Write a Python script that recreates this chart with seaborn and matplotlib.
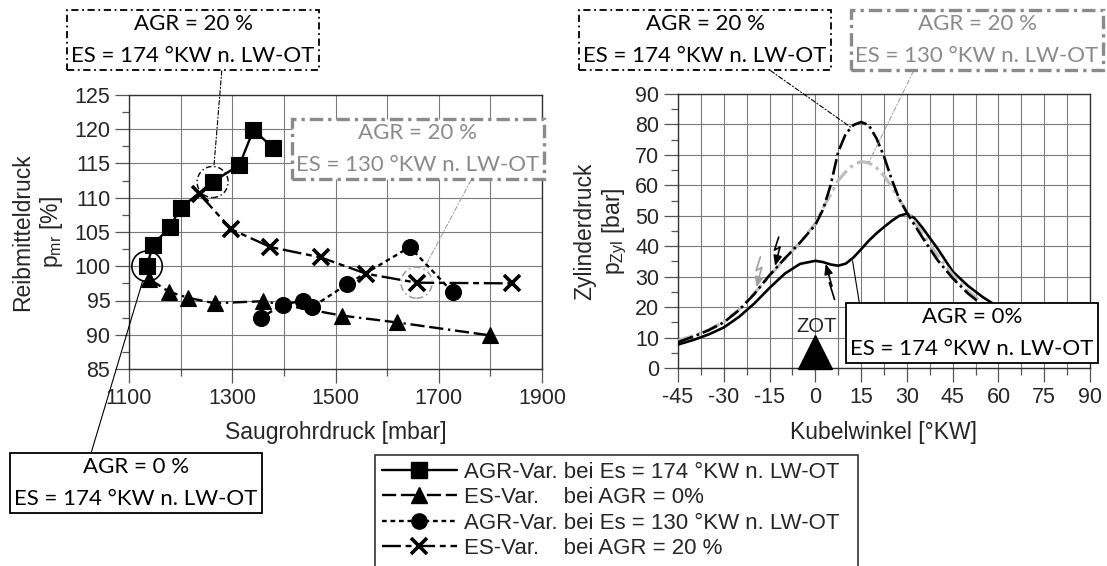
import matplotlib
matplotlib.use("Agg")
import matplotlib.pyplot as plt
from matplotlib.lines import Line2D
from matplotlib.patches import Rectangle
from matplotlib.ticker import MultipleLocator
import seaborn as sns

# ---------------- left panel: friction MEP vs. intake manifold pressure
agr_es174_p = [1135, 1146, 1179, 1200, 1262, 1314, 1341, 1379]
agr_es174_pmr = [100.0, 103.1, 105.7, 108.5, 112.3, 114.8, 119.9, 117.3]

es_agr0_p = [1138, 1177, 1214, 1266, 1360, 1512, 1619, 1800]
es_agr0_pmr = [98.2, 96.3, 95.4, 94.6, 94.9, 92.8, 91.8, 89.9]

agr_es130_p = [1355, 1399, 1437, 1454, 1523, 1644, 1727]
agr_es130_pmr = [92.5, 94.4, 95.0, 94.0, 97.4, 102.8, 96.2]

es_agr20_p = [1237, 1298, 1374, 1471, 1560, 1657, 1842]
es_agr20_pmr = [110.5, 105.4, 102.8, 101.3, 98.9, 97.6, 97.5]

p_ticks = [1100, 1300, 1500, 1700, 1900]

legend_labels = [
    "AGR-Var. bei Es = 174 °KW n. LW-OT",
    "ES-Var.    bei AGR = 0%",
    "AGR-Var. bei Es = 130 °KW n. LW-OT",
    "ES-Var.    bei AGR = 20 %",
]

# ---------------- right panel: cylinder pressure traces
crank_angle = [-45, -40, -35, -30, -25, -20, -15, -10, -5, 0, 2.5, 5, 7.5, 10,
               12.5, 15, 17.5, 20, 22.5, 25, 27.5, 30, 32.5, 35, 40, 45, 50,
               55, 60, 65, 70, 75, 80, 85, 90]
p_agr0_es174 = [7.7, 9.2, 11.0, 13.3, 16.8, 21.2, 26.3, 31.0, 34.2, 35.2, 34.8,
                34.0, 33.6, 34.3, 36.3, 39.0, 41.8, 44.2, 46.3, 48.3, 50.0,
                50.7, 49.2, 46.2, 39.3, 31.7, 27.0, 23.2, 20.0, 17.2, 15.0,
                13.0, 11.4, 10.0, 9.0]
p_agr20_es174 = [8.5, 10.3, 12.4, 15.0, 19.0, 24.3, 30.5, 36.0, 41.2, 47.0,
                 52.0, 60.0, 71.0, 77.0, 79.8, 80.8, 79.8, 75.5, 69.5, 62.0,
                 55.5, 51.0, 47.0, 43.0, 35.5, 29.5, 24.5, 20.5, 17.3, 14.8,
                 12.8, 11.2, 10.0, 9.0, 8.2]
p_agr20_es130 = [9.0, 10.6, 12.5, 15.2, 19.2, 24.5, 30.2, 35.8, 41.2, 47.5,
                 52.5, 57.0, 61.6, 64.5, 66.8, 67.8, 67.4, 65.8, 63.2, 59.5,
                 55.3, 51.5, 48.0, 44.2, 37.0, 30.6, 25.3, 21.2, 18.0, 15.3,
                 13.2, 11.5, 10.2, 9.2, 8.4]

txt_agr20_es174 = "AGR = 20 %\nES = 174 °KW n. LW-OT"
txt_agr20_es130 = "AGR = 20 %\nES = 130 °KW n. LW-OT"
txt_agr0_left = "AGR = 0 %\nES = 174 °KW n. LW-OT"
txt_agr0_right = "AGR = 0%\nES = 174 °KW n. LW-OT"

sns.set_style("ticks")
plt.rcParams["font.family"] = ["Liberation Sans", "DejaVu Sans"]
plt.rcParams["mathtext.default"] = "regular"
plt.rcParams["axes.unicode_minus"] = False

GRID = "#7a7a7a"
GRAY_TXT = "#8a8a8a"
GRAY_LINE = "#a0a0a0"
LIGHT = "#bdbdbd"
BOX_FONT = ["Lato", "DejaVu Sans"]
TICK_FS = 15.5
LABEL_FS = 16.5

W, H = 1107, 566
fig = plt.figure(figsize=(W / 100, H / 100), dpi=100)
axL = fig.add_axes([129 / W, 1 - 369 / H, 413 / W, 274 / H])
axR = fig.add_axes([678 / W, 1 - 368 / H, 412 / W, 274 / H])


def style_axes(ax):
    ax.grid(True, which="both", axis="x", color=GRID, lw=0.8)
    ax.grid(True, which="major", axis="y", color=GRID, lw=0.8)
    ax.set_axisbelow(True)
    for s in ax.spines.values():
        s.set_color("#333333")
        s.set_linewidth(1.0)
    ax.tick_params(which="major", direction="out", length=10, width=0.9,
                   color="#555555", labelsize=TICK_FS, pad=3.5)
    ax.tick_params(which="minor", direction="out", length=5, width=0.9,
                   color="#555555")


# ---------------- left panel
style_axes(axL)
mk = dict(color="k", lw=1.7, markersize=11.5, mec="k", mew=0.8,
          estimator=None, sort=False, ax=axL, legend=False)
sns.lineplot(x=agr_es174_p, y=agr_es174_pmr, marker="s", linestyle="-",
             zorder=4, **mk)
sns.lineplot(x=es_agr0_p, y=es_agr0_pmr, marker="^",
             linestyle=(0, (6, 2, 6, 2, 1, 2)), zorder=3, **mk)
sns.lineplot(x=agr_es130_p, y=agr_es130_pmr, marker="o",
             linestyle=(0, (2, 1.6)), zorder=3, **mk)
sns.lineplot(x=es_agr20_p, y=es_agr20_pmr, marker="x",
             linestyle=(0, (8, 2, 2.5, 2)), zorder=3,
             **{**mk, "markersize": 11, "mew": 2.6})

axL.set_xlim(1100, 1900)
axL.set_ylim(85, 125)
axL.set_xticks(p_ticks)
axL.xaxis.set_minor_locator(MultipleLocator(100))
axL.yaxis.set_major_locator(MultipleLocator(5))
axL.yaxis.set_minor_locator(MultipleLocator(2.5))
axL.set_xlabel("Saugrohrdruck [mbar]", fontsize=LABEL_FS)
axL.set_ylabel("Reibmitteldruck\n$p_{mr}$ [%]", fontsize=LABEL_FS,
               linespacing=1.2)
axL.xaxis.set_label_coords(0.5, -(421 - 369) / 274)
axL.yaxis.set_label_coords(-(129 - 65) / 413, 0.5)

# highlighted operating points
axL.scatter([agr_es174_p[0]], [agr_es174_pmr[0]], s=480, facecolors="none",
            edgecolors="k", linewidths=1.2, zorder=6)
axL.scatter([agr_es174_p[4]], [agr_es174_pmr[4]], s=500, facecolors="none",
            edgecolors="k", linewidths=1.0, linestyles=(0, (4, 2, 1, 2)),
            zorder=6)
axL.scatter([es_agr20_p[5]], [es_agr20_pmr[5]], s=500, facecolors="none",
            edgecolors=GRAY_LINE, linewidths=1.2, linestyles=(0, (4, 2, 1, 2)),
            zorder=6)


def callout(ax, text, xy, center_px, relpos, color="k", box_lw=1.2,
            box_ls="-", line_ls="-", shrink=0, line_color=None):
    ax.annotate(
        text, xy=xy, xycoords="data",
        xytext=(center_px[0], H - center_px[1]), textcoords="figure pixels",
        ha="center", va="center", fontsize=16, family=BOX_FONT,
        linespacing=1.7, color=color, annotation_clip=False, zorder=10,
        bbox=dict(boxstyle="square,pad=0.2", fc="white", ec=color,
                  lw=box_lw, ls=box_ls),
        arrowprops=dict(arrowstyle="-", color=line_color or color, lw=0.8,
                        ls=line_ls, relpos=relpos, shrinkA=0, shrinkB=shrink),
    )


DASHDOT = (0, (4, 2, 1, 2))
callout(axL, txt_agr20_es174, (agr_es174_p[4], agr_es174_pmr[4]), (193, 40),
        (0.62, 0.0), box_lw=1.3, box_ls=DASHDOT, line_ls=DASHDOT, shrink=12)
callout(axL, txt_agr20_es130, (es_agr20_p[5], es_agr20_pmr[5]), (418, 149),
        (0.73, 0.0), color=GRAY_TXT, box_lw=2.4, box_ls=(0, (4, 1.5, 1, 1.5)),
        line_ls=DASHDOT, shrink=12, line_color=GRAY_LINE)
callout(axL, txt_agr0_left, (agr_es174_p[0], agr_es174_pmr[0]), (136, 483),
        (0.31, 1.0), box_lw=1.3, shrink=11)

# ---------------- right panel
style_axes(axR)
ln = dict(estimator=None, sort=False, ax=axR, legend=False)
sns.lineplot(x=crank_angle, y=p_agr0_es174, color="k", lw=1.9,
             linestyle="-", zorder=3, **ln)
sns.lineplot(x=crank_angle, y=p_agr20_es130, color=LIGHT, lw=2.3,
             linestyle=(0, (5, 1.5, 1, 1.5)), zorder=3, **ln)
sns.lineplot(x=crank_angle, y=p_agr20_es174, color="k", lw=1.9,
             linestyle=(0, (6, 1.5, 1, 1.5)), zorder=4, **ln)

axR.set_xlim(-45, 90)
axR.set_ylim(0, 90)
axR.xaxis.set_major_locator(MultipleLocator(15))
axR.xaxis.set_minor_locator(MultipleLocator(7.5))
axR.yaxis.set_major_locator(MultipleLocator(10))
axR.yaxis.set_minor_locator(MultipleLocator(5))
axR.set_xlabel("Kubelwinkel [°KW]", fontsize=LABEL_FS)
axR.set_ylabel("Zylinderdruck\n$p_{Zyl}$ [bar]", fontsize=LABEL_FS,
               linespacing=1.2)
axR.xaxis.set_label_coords(0.5, -(421 - 368) / 274)
axR.yaxis.set_label_coords(-(678 - 629) / 412, 0.5)

# firing TDC marker
axR.plot([0], [5.3], marker="^", ms=24, color="k", clip_on=False, zorder=6)
axR.text(0.3, 13.6, "ZOT", ha="center", va="center", fontsize=14.5, zorder=6)


def spark(ax, top, tip, color):
    (x0, y0), (x1, y1) = top, tip
    dy = y0 - y1
    ax.plot([x0, x0 - 1.4, x0 + 0.4],
            [y0, y0 - 0.45 * dy, y0 - 0.35 * dy], color=color, lw=1.2,
            zorder=6)
    ax.annotate("", xy=(x1, y1), xytext=(x0 + 0.4, y0 - 0.35 * dy),
                arrowprops=dict(arrowstyle="-|>,head_length=0.6,head_width=0.25",
                                color=color, lw=1.2, shrinkA=0, shrinkB=0),
                zorder=6)


spark(axR, (-18.0, 36.5), (-19.3, 26.5), GRAY_LINE)
spark(axR, (-12.0, 43.0), (-13.2, 33.5), "k")
# upward spark pointing at the pressure dip
axR.plot([6.3, 4.6, 5.4], [22.5, 28.0, 27.0], color="k", lw=1.2, zorder=6)
axR.annotate("", xy=(3.4, 34.2), xytext=(5.4, 27.0),
             arrowprops=dict(arrowstyle="-|>,head_length=0.6,head_width=0.25",
                             color="k", lw=1.2, shrinkA=0, shrinkB=0),
             zorder=6)

callout(axR, txt_agr20_es174, (12.0, 78.8), (705, 40), (0.74, 0.0),
        box_lw=1.3, box_ls=DASHDOT, line_ls=DASHDOT)
callout(axR, txt_agr20_es130, (17.6, 67.7), (977, 40), (0.25, 0.0),
        color=GRAY_TXT, box_lw=2.4, box_ls=(0, (4, 1.5, 1, 1.5)),
        line_ls=DASHDOT, line_color=GRAY_LINE)
callout(axR, txt_agr0_right, (12.2, 35.2), (972, 333), (0.04, 1.0),
        box_lw=1.3)

# ---------------- shared legend (frame runs past the lower figure edge)
legend_frame = Rectangle((375 / W, -20 / H), (858 - 375) / W, (586 - 455) / H,
                         transform=fig.transFigure, fc="white",
                         ec="#333333", lw=1.2, zorder=1)
fig.add_artist(legend_frame)

handles = [
    Line2D([], [], color="k", lw=1.7, ls="-", marker="s", ms=11, mec="k"),
    Line2D([], [], color="k", lw=1.7, ls=(0, (6, 2, 6, 2, 1, 2)), marker="^",
           ms=11, mec="k"),
    Line2D([], [], color="k", lw=1.7, ls=(0, (2, 1.6)), marker="o", ms=11,
           mec="k"),
    Line2D([], [], color="k", lw=1.7, ls=(0, (8, 2, 2.5, 2)), marker="x",
           ms=11, mew=2.6, mec="k"),
]
leg = fig.legend(handles, legend_labels, loc="upper left",
                 bbox_to_anchor=(375 / W, 1 - 455 / H), frameon=False,
                 borderaxespad=0, handlelength=3.4, handletextpad=0.32,
                 borderpad=0.3, labelspacing=0.2,
                 prop=dict(family="Liberation Sans", size=16))
leg.set_zorder(2)

fig.savefig("out.png", dpi=100)
